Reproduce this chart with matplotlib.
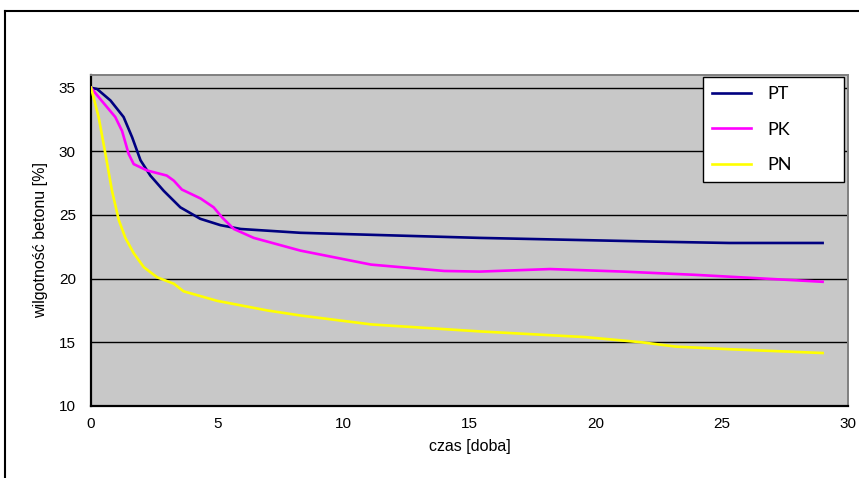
import matplotlib
matplotlib.use("Agg")
import matplotlib.pyplot as plt
from matplotlib.lines import Line2D

# ── data ─────────────────────────────────────────────────────────────────────
pt_x = [0, 0.24, 0.77, 1.29, 1.63, 1.96, 2.35, 2.88, 3.54, 4.33, 5.13, 5.93,
        8.3, 15.4, 22.5, 25.3, 29.0]
pt_y = [35, 34.9, 34.0, 32.7, 31.1, 29.3, 28.1, 26.9, 25.6, 24.7, 24.2, 23.9,
        23.6, 23.2, 22.9, 22.8, 22.8]

pk_x = [0, 0.37, 0.96, 1.23, 1.49, 1.69, 2.22, 3.0, 3.28, 3.6, 4.34, 4.86,
        5.2, 5.66, 6.45, 8.3, 11.1, 14.0, 15.4, 18.2, 21.1, 23.9, 26.7, 29.0]
pk_y = [35, 34.1, 32.7, 31.6, 29.8, 29.0, 28.5, 28.1, 27.7, 27.0, 26.3, 25.6,
        24.8, 23.9, 23.2, 22.2, 21.1, 20.6, 20.55, 20.75, 20.55, 20.3, 20.0, 19.75]

pn_x = [0, 0.3, 0.57, 0.83, 1.1, 1.36, 1.69, 2.09, 2.62, 3.28, 3.67, 5.0,
        6.98, 8.3, 11.1, 15.4, 19.6, 21.8, 23.2, 25.3, 29.0]
pn_y = [35, 32.7, 29.8, 26.9, 24.6, 23.2, 22.0, 20.9, 20.1, 19.6, 19.0, 18.25,
        17.5, 17.1, 16.4, 15.85, 15.4, 15.0, 14.65, 14.45, 14.15]

series_names = ["PT", "PK", "PN"]
series_colors = ["#000080", "#ff00ff", "#ffff00"]

x_ticks = [0, 5, 10, 15, 20, 25, 30]
y_ticks = [10, 15, 20, 25, 30, 35]

# ── plot ─────────────────────────────────────────────────────────────────────
plt.rcParams["font.family"] = ["Liberation Sans", "DejaVu Sans"]

fig = plt.figure(figsize=(8.59, 4.78), dpi=100)
ax = fig.add_axes([0.106, 0.151, 0.881, 0.692])
ax.set_facecolor("#c8c8c8")

for xs, ys, name, col in zip([pt_x, pk_x, pn_x], [pt_y, pk_y, pn_y],
                             series_names, series_colors):
    ax.plot(xs, ys, color=col, lw=1.9, label=name, zorder=3)

ax.set_xlim(0, 30)
ax.set_ylim(10, 36)
ax.set_xticks(x_ticks)
ax.set_yticks(y_ticks)
ax.tick_params(axis="y", length=0, labelsize=11, pad=11)
ax.tick_params(axis="x", length=0, labelsize=11, pad=8)
ax.yaxis.grid(True, color="black", lw=1.0, zorder=1)
ax.set_axisbelow(True)

for side in ["left", "bottom"]:
    ax.spines[side].set_color("black")
    ax.spines[side].set_linewidth(1.6)
for side in ["top", "right"]:
    ax.spines[side].set_color("#808080")
    ax.spines[side].set_linewidth(1.4)

ax.set_xlabel("czas [doba]", fontsize=11.5, labelpad=6)
ax.set_ylabel("wilgotność betonu [%]", fontsize=11.5, labelpad=8)

leg = ax.legend(loc="upper left", bbox_to_anchor=(0.808, 0.674, 0.187, 0.32),
                mode="expand", borderaxespad=0, fancybox=False, framealpha=1,
                edgecolor="black", prop={"family": "Lato", "size": 13},
                handlelength=2.2, handletextpad=0.9, labelspacing=1.08,
                borderpad=0.5)
leg.get_frame().set_linewidth(1.0)
leg.set_zorder(5)

# outer chart frame (only left and top visible in the crop)
fig.add_artist(Line2D([0.006, 0.006], [0, 0.977], color="black", lw=1.5,
                      transform=fig.transFigure))
fig.add_artist(Line2D([0.006, 1.0], [0.977, 0.977], color="black", lw=1.5,
                      transform=fig.transFigure))

plt.savefig("out.png", dpi=100, facecolor="white")
